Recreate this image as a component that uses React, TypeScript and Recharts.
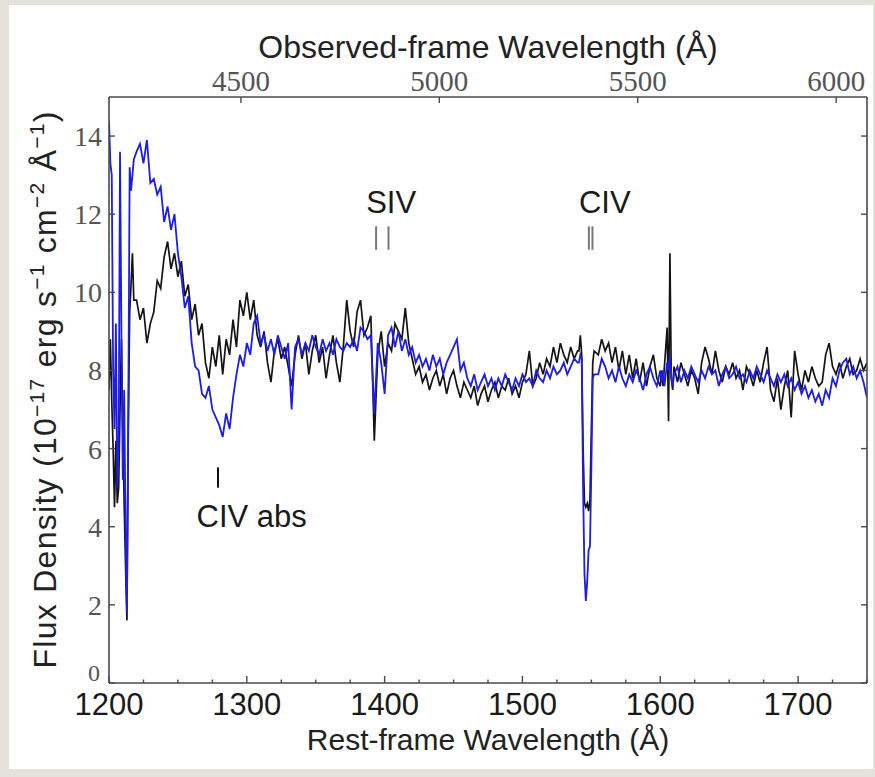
import React from 'react';
import { LineChart, Line, XAxis, YAxis, ReferenceLine, ReferenceDot, Label } from 'recharts';

// redshift factor: observed = rest * (1 + z)
const ONE_PLUS_Z = 3.473;
const REST_DOMAIN = [1200, 1750];
const FLUX_DOMAIN = [0, 15];
const REST_TICKS = [1200, 1225, 1250, 1275, 1300, 1325, 1350, 1375, 1400, 1425, 1450, 1475, 1500, 1525, 1550, 1575, 1600, 1625, 1650, 1675, 1700, 1725, 1750];
const OBS_TICKS = [4500, 5000, 5500, 6000];
const FLUX_TICKS = [0, 2, 4, 6, 8, 10, 12, 14];

// sampling segments of the rest-frame wavelength grid: [start, step, count]
const SEGMENTS: [number, number, number][] = [
  [1200, 1, 19],
  [1220, 2.5, 129],
  [1541, 1, 12],
  [1555, 2.5, 19],
  [1601, 1, 9],
  [1610, 2.5, 57],
];

// black spectrum
const blackFlux = [
  // 1200-1218 (1 A)
  7.5, 8.8, 7.2, 6.0, 4.5, 6.2, 4.6, 5.0, 7.0, 8.8, 6.5, 4.6, 3.0, 1.6, 6.5, 9.5, 10.2, 11.0, 9.8,
  // 1220-1540 (2.5 A)
  9.8, 9.3, 9.6, 8.7,
  9.2, 9.5, 10.3, 10.1,
  10.9, 11.3, 10.6, 11.0,
  10.4, 10.8, 9.9, 10.2,
  9.3, 9.7, 8.9, 9.2,
  8.2, 7.8, 8.6, 8.1,
  8.9, 7.9, 8.8, 8.4,
  9.3, 8.6, 9.8, 9.4,
  10.0, 9.3, 9.8, 8.9,
  8.6, 9.0, 8.2, 7.7,
  8.5, 8.8, 8.3, 8.6,
  8.1, 7.6, 8.4, 8.9,
  8.3, 8.7, 7.9, 8.5,
  8.9, 8.2, 8.6, 7.8,
  8.4, 8.9, 8.2, 7.7,
  8.6, 9.8, 9.0, 8.6,
  9.5, 9.8, 8.9, 9.1,
  9.4, 6.2, 8.4, 9.0,
  8.1, 8.7, 8.5, 9.2,
  9.0, 8.8, 9.6, 8.7,
  8.3, 7.9, 8.1, 7.7,
  7.9, 7.5, 7.8, 8.0,
  7.6, 7.9, 7.4, 7.8,
  8.0, 7.6, 7.3, 7.7,
  7.5, 7.3, 7.6, 7.1,
  7.4, 7.6, 7.2, 7.5,
  7.7, 7.3, 7.6, 7.5,
  7.8, 7.4, 7.6, 7.3,
  7.7, 7.9, 8.5, 7.6,
  7.8, 8.2, 7.9, 8.3,
  8.1, 8.6, 8.2, 8.7,
  8.4, 8.2, 8.6, 8.3,
  8.5,
  // 1541-1552 (1 A)
  8.5, 8.9, 8.4, 6.0, 4.6, 4.5, 4.6, 4.4, 4.7, 6.5, 8.2, 8.5,
  // 1555-1600 (2.5 A)
  8.4, 8.8, 8.5, 8.7, 8.2, 8.6, 8.0, 8.5, 7.9, 8.4, 7.8, 8.3, 7.7, 8.2, 7.6, 8.1, 8.4, 7.8, 7.6,
  // 1601-1609 (1 A)
  8.0, 7.6, 8.1, 8.6, 9.1, 6.7, 11.0, 7.8, 7.5,
  // 1610-1750 (2.5 A)
  8.1, 7.7, 8.2, 7.9,
  7.6, 8.0, 7.8, 7.4,
  8.2, 8.6, 8.3, 7.9,
  8.5, 8.0, 7.7, 8.1,
  7.9, 8.2, 7.8, 8.0,
  7.5, 8.1, 7.9, 7.6,
  8.0, 7.7, 8.2, 8.6,
  7.5, 7.2, 7.8, 7.0,
  7.6, 8.0, 6.8, 8.5,
  7.9, 7.5, 8.0, 7.7,
  8.1, 7.8, 7.6, 7.7,
  8.4, 8.7, 8.1, 7.9,
  8.2, 7.8, 8.1, 8.3,
  7.9, 8.0, 8.3, 8.0,
  8.2,
];

// blue spectrum
const blueFlux = [
  // 1200-1218 (1 A)
  14.4, 13.3, 13.0, 8.0, 6.5, 9.2, 5.0, 6.0, 13.6, 9.0, 5.2, 7.5, 4.0, 1.8, 7.0, 13.2, 12.6, 13.0, 13.4,
  // 1220-1540 (2.5 A)
  13.6, 13.8, 13.3, 13.9,
  12.8, 12.9, 12.5, 12.7,
  11.8, 12.2, 11.6, 12.0,
  11.0, 10.4, 9.6, 9.9,
  8.7, 8.1, 8.0, 7.4,
  7.3, 7.6, 7.0, 6.8,
  6.6, 6.3, 6.9, 6.5,
  7.3, 7.9, 8.4, 8.1,
  8.7, 8.4, 9.2, 9.4,
  8.7, 8.9, 8.5, 8.8,
  8.4, 8.9, 8.6, 8.3,
  8.7, 7.0, 8.6, 8.8,
  8.4, 8.7, 8.5, 8.9,
  8.6, 8.4, 8.8, 8.5,
  8.7, 8.4, 8.8, 8.6,
  8.5, 8.7, 8.6, 8.8,
  8.5, 9.1, 9.0, 8.8,
  8.9, 6.9, 8.7, 8.2,
  7.4, 8.9, 9.1, 8.6,
  9.0, 8.5, 8.8, 8.4,
  8.6, 8.2, 8.4, 8.1,
  8.3, 8.0, 8.4, 8.1,
  8.3, 7.9, 8.2, 8.4,
  8.6, 8.8, 8.0, 8.2,
  7.8, 7.6, 7.9, 7.5,
  7.7, 7.9, 7.6, 7.8,
  7.5, 7.8, 7.6, 7.9,
  7.7, 7.5, 7.8, 7.6,
  7.9, 7.7, 7.8, 7.6,
  8.0, 7.8, 7.7, 8.0,
  7.8, 8.1, 7.9, 8.0,
  8.2, 7.9, 8.1, 8.3,
  8.2,
  // 1541-1552 (1 A)
  8.2, 8.4, 8.3, 5.0, 2.8, 2.1, 2.6, 3.4, 3.5, 5.5, 7.8, 7.9,
  // 1555-1600 (2.5 A)
  7.9, 8.3, 8.1, 7.8, 8.0, 7.7, 8.1, 7.8, 7.6, 7.9, 7.7, 8.0, 7.8, 7.5, 7.9, 8.1, 7.8, 7.6, 8.0,
  // 1601-1609 (1 A)
  7.7, 8.0, 7.6, 7.9, 8.2, 8.0, 8.4, 7.8, 7.6,
  // 1610-1750 (2.5 A)
  7.9, 8.1, 7.7, 8.0,
  7.8, 8.1, 7.9, 7.7,
  8.0, 7.8, 8.1, 7.9,
  8.0, 7.6, 7.9, 8.1,
  7.8, 7.9, 8.1, 7.8,
  7.9, 7.7, 8.0, 7.8,
  8.1, 7.9, 7.7, 8.0,
  7.8, 7.6, 7.9, 7.7,
  7.9, 7.6, 7.8, 7.5,
  7.7, 7.4, 7.6, 7.3,
  7.5, 7.2, 7.4, 7.1,
  7.5, 7.3, 7.8, 7.6,
  8.0, 8.2, 8.3, 7.9,
  8.1, 7.8, 8.0, 7.7,
  7.3,
];

// line-identification marks (rest wavelength, flux range)
const markTicks = [
  { x: 1279.1, y1: 5.0, y2: 5.52, color: '#111111' },
  { x: 1393.8, y1: 11.09, y2: 11.69, color: '#777777' },
  { x: 1402.8, y1: 11.09, y2: 11.69, color: '#777777' },
  { x: 1548.2, y1: 11.09, y2: 11.69, color: '#777777' },
  { x: 1550.8, y1: 11.09, y2: 11.69, color: '#777777' },
];
const markLabels = [
  { x: 1404.7, y: 12.03, text: 'SIV' },
  { x: 1559.7, y: 12.03, text: 'CIV' },
  { x: 1303.5, y: 4.0, text: 'CIV abs' },
];

const restWl: number[] = [];
SEGMENTS.forEach(([start, step, count]) => {
  for (let i = 0; i < count; i++) restWl.push(start + i * step);
});
const n = Math.min(restWl.length, blackFlux.length, blueFlux.length);
const data = restWl.slice(0, n).map((wl, i) => ({
  wl,
  obs: wl * ONE_PLUS_Z,
  black: blackFlux[i],
  blue: blueFlux[i],
}));

const SANS = '"Liberation Sans", Arial, Helvetica, sans-serif';
const SERIF = '"Liberation Serif", "Times New Roman", serif';
const FRAME = '#4a4a4a';
const TICKTXT = '#555555';
const AX = 5; // axis band thickness

const BottomTick = (props: any) => {
  const { x, y, payload } = props;
  const v = payload.value;
  const major = Math.abs(v % 100) < 1e-6;
  return (
    <g>
      <line x1={x} x2={x} y1={y} y2={y - (major ? 7 : 3.5)} stroke={FRAME} strokeWidth={1.4} />
      {major && (
        <text x={x} y={y + 32} textAnchor="middle" fontFamily={SANS} fontSize={31} fill="#1a1a1a">
          {v}
        </text>
      )}
    </g>
  );
};

const TopTick = (props: any) => {
  const { x, y, payload } = props;
  return (
    <g>
      <line x1={x} x2={x} y1={y} y2={y + 6} stroke={FRAME} strokeWidth={1.4} />
      <text x={x} y={y - 6} textAnchor="middle" fontFamily={SERIF} fontSize={29} fill={TICKTXT}>
        {payload.value}
      </text>
    </g>
  );
};

const LeftTick = (props: any) => {
  const { x, y, payload } = props;
  const isZero = payload.value === 0;
  return (
    <g>
      <line x1={x} x2={x + 6} y1={y} y2={y} stroke={FRAME} strokeWidth={1.4} />
      <text x={x - (isZero ? 9 : 7)} y={y + (isZero ? -2 : 10)} textAnchor="end" fontFamily={SERIF} fontSize={isZero ? 24 : 28} fill={TICKTXT}>
        {payload.value}
      </text>
    </g>
  );
};

const RightTick = (props: any) => {
  const { x, y } = props;
  return <line x1={x} x2={x - 6} y1={y} y2={y} stroke={FRAME} strokeWidth={1.4} />;
};

const BottomTitle = (props: any) => {
  const vb = props.viewBox;
  return (
    <text x={vb.x + vb.width / 2} y={vb.y + 67} textAnchor="middle" fontFamily={SANS} fontSize={30} fill="#222">
      Rest-frame Wavelength (Å)
    </text>
  );
};

const TopTitle = (props: any) => {
  const vb = props.viewBox;
  return (
    <text x={vb.x + vb.width / 2} y={vb.y + vb.height - 39} textAnchor="middle" fontFamily={SANS} fontSize={32} fill="#222">
      Observed-frame Wavelength (Å)
    </text>
  );
};

const LeftTitle = (props: any) => {
  const vb = props.viewBox;
  const cx = vb.x + vb.width - 53;
  const cy = vb.y + vb.height / 2;
  const sup = 21;
  return (
    <text
      x={cx}
      y={cy}
      transform={`rotate(-90 ${cx} ${cy})`}
      textAnchor="middle"
      fontFamily={SANS}
      fontSize={32}
      fill="#222"
      textLength={557}
      lengthAdjust="spacing"
    >
      Flux Density (10
      <tspan fontSize={sup} dy={-12}>−17</tspan>
      <tspan dy={12}> erg s</tspan>
      <tspan fontSize={sup} dy={-12}>−1</tspan>
      <tspan dy={12}> cm</tspan>
      <tspan fontSize={sup} dy={-12}>−2</tspan>
      <tspan dy={12}> Å</tspan>
      <tspan fontSize={sup} dy={-12}>−1</tspan>
      <tspan dy={12}>)</tspan>
    </text>
  );
};

export default function App() {
  return (
    <div style={{ position: 'absolute', left: 0, top: 0, width: 875, height: 777, background: '#e3e3dc', overflow: 'hidden' }}>
      <div style={{ position: 'absolute', left: 9, top: 5, width: 864, height: 764, background: '#ffffff' }} />
      <div style={{ position: 'absolute', left: 0, top: 0 }}>
        <LineChart width={875} height={777} data={data} margin={{ top: 97 - AX, right: 8 - AX, bottom: 94 - AX, left: 109 - AX }}>
          <XAxis
            xAxisId="b"
            dataKey="wl"
            type="number"
            domain={REST_DOMAIN}
            allowDataOverflow
            ticks={REST_TICKS}
            interval={0}
            height={AX}
            tickSize={0}
            tickMargin={0}
            tickLine={false}
            tick={<BottomTick />}
            axisLine={{ stroke: FRAME, strokeWidth: 1.6 }}
          >
            <Label content={<BottomTitle />} />
          </XAxis>
          <XAxis
            xAxisId="t"
            dataKey="obs"
            type="number"
            orientation="top"
            domain={[REST_DOMAIN[0] * ONE_PLUS_Z, REST_DOMAIN[1] * ONE_PLUS_Z]}
            allowDataOverflow
            ticks={OBS_TICKS}
            interval={0}
            height={AX}
            tickSize={0}
            tickMargin={0}
            tickLine={false}
            tick={<TopTick />}
            axisLine={{ stroke: FRAME, strokeWidth: 1.6 }}
          >
            <Label content={<TopTitle />} />
          </XAxis>
          <YAxis
            yAxisId="l"
            type="number"
            domain={FLUX_DOMAIN}
            allowDataOverflow
            ticks={FLUX_TICKS}
            interval={0}
            width={AX}
            tickSize={0}
            tickMargin={0}
            tickLine={false}
            tick={<LeftTick />}
            axisLine={{ stroke: FRAME, strokeWidth: 1.6 }}
          >
            <Label content={<LeftTitle />} />
          </YAxis>
          <YAxis
            yAxisId="r"
            orientation="right"
            type="number"
            domain={FLUX_DOMAIN}
            allowDataOverflow
            ticks={FLUX_TICKS}
            interval={0}
            width={AX}
            tickSize={0}
            tickMargin={0}
            tickLine={false}
            tick={<RightTick />}
            axisLine={{ stroke: FRAME, strokeWidth: 1.6 }}
          />
          <Line
            xAxisId="t"
            yAxisId="r"
            dataKey="black"
            stroke="none"
            dot={false}
            activeDot={false}
            isAnimationActive={false}
          />
          <Line
            xAxisId="b"
            yAxisId="l"
            dataKey="black"
            type="linear"
            stroke="#141414"
            strokeWidth={1.7}
            dot={false}
            activeDot={false}
            isAnimationActive={false}
          />
          <Line
            xAxisId="b"
            yAxisId="l"
            dataKey="blue"
            type="linear"
            stroke="#1c1ced"
            strokeWidth={1.8}
            dot={false}
            activeDot={false}
            isAnimationActive={false}
          />
          {markTicks.map((m, i) => (
            <ReferenceLine
              key={`t${i}`}
              xAxisId="b"
              yAxisId="l"
              segment={[{ x: m.x, y: m.y1 }, { x: m.x, y: m.y2 }]}
              stroke={m.color}
              strokeWidth={2}
            />
          ))}
          {markLabels.map((m, i) => (
            <ReferenceDot
              key={`l${i}`}
              xAxisId="b"
              yAxisId="l"
              x={m.x}
              y={m.y}
              r={0}
              shape={(p: any) => (
                <text x={p.cx} y={p.cy} textAnchor="middle" fontFamily={SANS} fontSize={31} fill="#1a1a1a">
                  {m.text}
                </text>
              )}
            />
          ))}
        </LineChart>
      </div>
    </div>
  );
}
